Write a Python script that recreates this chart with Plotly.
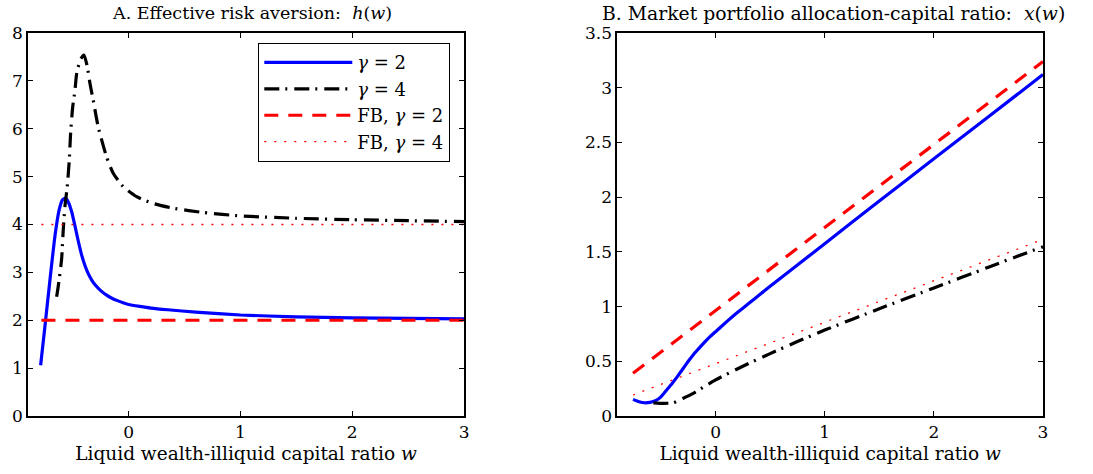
import plotly.graph_objects as go
from plotly.subplots import make_subplots

# ---------------- Panel A: effective risk aversion h(w) ----------------
w_h_g2 = [-0.787, -0.75, -0.70, -0.66, -0.62, -0.59, -0.565, -0.54, -0.51, -0.48,
          -0.45, -0.42, -0.39, -0.36, -0.33, -0.30, -0.25, -0.20, -0.15, -0.10,
          -0.05, 0.0, 0.1, 0.2, 0.35, 0.6, 1.0, 1.5, 2.0, 2.5, 3.0]
h_g2 = [1.06, 1.84, 2.92, 3.74, 4.32, 4.52, 4.55, 4.47, 4.27, 3.97,
        3.65, 3.36, 3.14, 2.97, 2.84, 2.74, 2.62, 2.53, 2.46, 2.41,
        2.365, 2.33, 2.29, 2.255, 2.22, 2.17, 2.11, 2.07, 2.05, 2.04, 2.03]

w_h_g4 = [-0.644, -0.63, -0.60, -0.585, -0.57, -0.549, -0.531, -0.519, -0.50, -0.48,
          -0.465, -0.43, -0.40, -0.37, -0.346, -0.317, -0.272, -0.197, -0.138, -0.048,
          0.072, 0.22, 0.40, 0.67, 1.0, 1.5, 2.0, 2.5, 3.0]
h_g4 = [2.49, 2.70, 3.26, 3.88, 4.37, 4.79, 5.34, 5.90, 6.46, 6.80,
        7.15, 7.45, 7.54, 7.30, 6.95, 6.60, 6.04, 5.41, 5.07, 4.79,
        4.58, 4.44, 4.34, 4.25, 4.18, 4.13, 4.10, 4.08, 4.06]

w_h_fb = [-0.78, 3.0]
h_fb_g2 = [2.0, 2.0]
h_fb_g4 = [4.0, 4.0]

# ---------------- Panel B: market portfolio allocation x(w) ----------------
w_x_g2 = [-0.756, -0.70, -0.65, -0.60, -0.55, -0.50, -0.45, -0.40, -0.35, -0.30,
          -0.25, -0.20, -0.15, -0.10, -0.05, 0.0, 0.1, 0.2, 0.3, 0.4,
          0.5, 0.75, 1.0, 1.5, 2.0, 2.5, 3.0]
x_g2 = [0.152, 0.13, 0.121, 0.125, 0.14, 0.175, 0.235, 0.295, 0.36, 0.43,
        0.50, 0.565, 0.62, 0.675, 0.725, 0.77, 0.86, 0.945, 1.025, 1.105,
        1.185, 1.38, 1.575, 1.965, 2.35, 2.735, 3.12]

w_x_g4 = [-0.57, -0.51, -0.39, -0.30, -0.205, -0.10, 0.0, 0.25, 0.5, 0.75, 1.0,
          1.5, 2.0, 2.5, 3.0]
x_g4 = [0.12, 0.116, 0.12, 0.16, 0.207, 0.27, 0.33, 0.455, 0.57, 0.68, 0.785,
        0.98, 1.17, 1.36, 1.547]

w_x_fb = [-0.756, 3.0]
x_fb_g2 = [0.39, 3.24]
x_fb_g4 = [0.192, 1.614]

# tick labels
x_ticks = [0, 1, 2, 3]
yA_ticks = [0, 1, 2, 3, 4, 5, 6, 7, 8]
yB_ticks = [0, 0.5, 1, 1.5, 2, 2.5, 3, 3.5]

names = ["<i>γ</i> = 2", "<i>γ</i> = 4", "FB, <i>γ</i> = 2", "FB, <i>γ</i> = 4"]

FONT = "DejaVu Serif"
BLUE = "#0000FF"
RED = "#FF0000"
BLACK = "#000000"

fig = make_subplots(rows=1, cols=2,
                    subplot_titles=("A. Effective risk aversion:  <i>h</i>(<i>w</i>)",
                                    "B. Market portfolio allocation-capital ratio:  <i>x</i>(<i>w</i>)"))

style_g2 = dict(color=BLUE, width=3.2)
style_g4 = dict(color=BLACK, width=3.2, dash="15px,6px,2px,7px")
style_fb2 = dict(color=RED, width=3.2, dash="14px,10px")
style_fb4 = dict(color=RED, width=1.3, dash="2px,8px")

# Panel A
fig.add_trace(go.Scatter(x=w_h_g2, y=h_g2, mode="lines", name=names[0], line=style_g2,
                         line_shape="spline", line_smoothing=0.5, legendrank=1), row=1, col=1)
fig.add_trace(go.Scatter(x=w_h_g4, y=h_g4, mode="lines", name=names[1], line=style_g4,
                         line_shape="spline", line_smoothing=0.6, legendrank=2), row=1, col=1)
fig.add_trace(go.Scatter(x=w_h_fb, y=h_fb_g2, mode="lines", name=names[2], line=style_fb2,
                         legendrank=3), row=1, col=1)
fig.add_trace(go.Scatter(x=w_h_fb, y=h_fb_g4, mode="lines", name=names[3], line=style_fb4,
                         legendrank=4), row=1, col=1)

# Panel B
fig.add_trace(go.Scatter(x=w_x_fb, y=x_fb_g2, mode="lines", name=names[2], line=style_fb2,
                         showlegend=False), row=1, col=2)
fig.add_trace(go.Scatter(x=w_x_fb, y=x_fb_g4, mode="lines", name=names[3], line=style_fb4,
                         showlegend=False), row=1, col=2)
fig.add_trace(go.Scatter(x=w_x_g2, y=x_g2, mode="lines", name=names[0], line=style_g2,
                         line_shape="spline", line_smoothing=0.5, showlegend=False), row=1, col=2)
fig.add_trace(go.Scatter(x=w_x_g4, y=x_g4, mode="lines", name=names[1], line=style_g4,
                         line_shape="spline", line_smoothing=0.6, showlegend=False), row=1, col=2)

axis_common = dict(showline=True, linecolor="black", linewidth=1.6, mirror="allticks",
                   ticks="inside", ticklen=5, tickwidth=1, tickcolor="black",
                   showgrid=False, zeroline=False,
                   tickfont=dict(family=FONT, size=17, color="black"))

for c in (1, 2):
    fig.update_xaxes(range=[-0.9, 3], tickvals=x_ticks, row=1, col=c,
                     title=dict(text="Liquid wealth-illiquid capital ratio <i>w</i>",
                                font=dict(family=FONT, size=18.5, color="black"), standoff=6),
                     **axis_common)
fig.update_xaxes(domain=[0.0, 0.4296], row=1, col=1)
fig.update_xaxes(domain=[0.5806, 1.0], row=1, col=2)
fig.update_yaxes(range=[0, 8], tickvals=yA_ticks, row=1, col=1, **axis_common)
fig.update_yaxes(range=[0, 3.5], tickvals=yB_ticks, row=1, col=2, **axis_common)

ann_x = [0.2207, 0.794]
ann_size = [17.5, 18.8]
for ann, ax, sz in zip(fig.layout.annotations, ann_x, ann_size):
    ann.font = dict(family=FONT, size=sz, color="black")
    ann.yanchor = "middle"
    ann.y = 1.052
    ann.x = ax

fig.update_layout(
    width=1093, height=474,
    margin=dict(l=28, r=50, t=33, b=58),
    paper_bgcolor="white", plot_bgcolor="white",
    font=dict(family=FONT, size=17, color="black"),
    showlegend=True,
    legend=dict(x=0.2266, y=0.974, xanchor="left", yanchor="top",
                bordercolor="black", borderwidth=1.3, bgcolor="white",
                font=dict(family=FONT, size=18, color="black"),
                itemwidth=88, tracegroupgap=0),
)

fig.write_html("out.html", config={"displayModeBar": False},
               post_script="document.body.style.margin='0px';")
